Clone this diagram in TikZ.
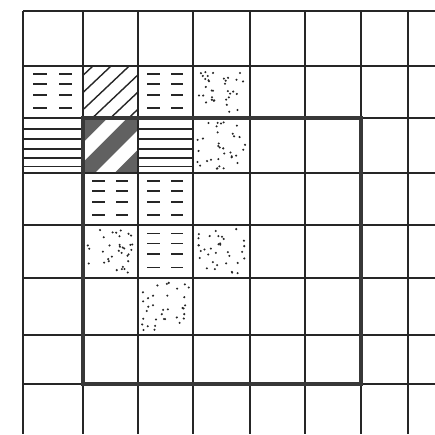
\documentclass[tikz,border=0pt]{standalone}
\begin{document}
\begin{tikzpicture}[x=1pt,y=-1pt,
  gridline/.style={line width=1.7pt, black!85},
  frameline/.style={line width=4.2pt, black!78},
  dashmark/.style={fill=black!85},
  ruleline/.style={line width=1.5pt, black!85},
  hatchline/.style={line width=1.4pt, black!85},
  dotmark/.style={fill=black!85},
  bandfill/.style={fill=black!62},
]
\useasboundingbox (0,0) rectangle (435,434);
\fill[white] (0,0) rectangle (435,434);
\def\xs{{23,83,138,193,250,305,361,408,435}}
\def\ys{{11,66,118,173,225,278,335,384,434}}
\newcommand\cellbox[2]{%
  \pgfmathsetmacro\xa{\xs[#1]}\pgfmathsetmacro\xb{\xs[#1+1]}%
  \pgfmathsetmacro\ya{\ys[#2]}\pgfmathsetmacro\yb{\ys[#2+1]}%
  \pgfmathsetmacro\cw{\xb-\xa}\pgfmathsetmacro\ch{\yb-\ya}}
\newcommand\dashcell[2]{\cellbox{#1}{#2}%
  \pgfmathsetmacro\dxa{\xa+0.16*\cw}\pgfmathsetmacro\dxb{\xa+0.4*\cw}%
  \pgfmathsetmacro\dxc{\xa+0.6*\cw}\pgfmathsetmacro\dxd{\xa+0.82*\cw}%
  \foreach \vv in {0.16,0.35,0.55,0.8}{%
    \pgfmathsetmacro\dya{\ya+\vv*\ch-0.9}\pgfmathsetmacro\dyb{\ya+\vv*\ch+0.9}%
    \fill[dashmark] (\dxa,\dya) rectangle (\dxb,\dyb);
    \fill[dashmark] (\dxc,\dya) rectangle (\dxd,\dyb);
  }}
\newcommand\rulecell[2]{\cellbox{#1}{#2}%
  \foreach \vv in {0.2,0.38,0.56,0.73,0.88}{%
    \draw[ruleline] (\xa,{\ya+\vv*\ch}) -- (\xb,{\ya+\vv*\ch});
  }}
\newcommand\dotcell[3]{\cellbox{#1}{#2}\pgfmathsetseed{#3}%
  \foreach \i in {1,...,34}{%
    \pgfmathsetmacro\px{\xa+4+rnd*(\cw-8)}%
    \pgfmathsetmacro\py{\ya+4+rnd*(\ch-8)}%
    \fill[dotmark] (\px,\py) circle (1.15);
  }}
\newcommand\hatchcell[2]{\cellbox{#1}{#2}%
  \begin{scope}
    \clip (\xa,\ya) rectangle (\xb,\yb);
    \foreach \c in {0.18,0.51,0.84,1.17,1.5,1.83}{%
      \draw[hatchline] ({\xa+\c*\cw},\ya) -- ({\xa+(\c-1)*\cw},\yb);
    }
  \end{scope}}
\newcommand\bandcell[2]{\cellbox{#1}{#2}%
  \begin{scope}
    \clip (\xa,\ya) rectangle (\xb,\yb);
    \fill[bandfill] (\xa,\ya) rectangle (\xb,\yb);
    \foreach \a/\b in {0.45/0.8,1.22/1.57}{%
      \fill[white] ({\xa+\a*\cw},\ya) -- ({\xa+\b*\cw},\ya) -- ({\xa+(\b-1)*\cw},\yb) -- ({\xa+(\a-1)*\cw},\yb) -- cycle;
    }
  \end{scope}}

\dashcell{0}{1}
\hatchcell{1}{1}
\dashcell{2}{1}
\dotcell{3}{1}{11}
\rulecell{0}{2}
\bandcell{1}{2}
\rulecell{2}{2}
\dotcell{3}{2}{23}
\dashcell{1}{3}
\dashcell{2}{3}
\dotcell{1}{4}{37}
\dashcell{2}{4}
\dotcell{3}{4}{41}
\dotcell{2}{5}{53}

\foreach \x in {23,83,138,193,250,305,361,408}{\draw[gridline] (\x,11) -- (\x,434);}
\foreach \y in {11,66,118,173,225,278,335,384}{\draw[gridline] (23,\y) -- (435,\y);}
\draw[frameline] (83,118) rectangle (361,384);
\end{tikzpicture}
\end{document}
